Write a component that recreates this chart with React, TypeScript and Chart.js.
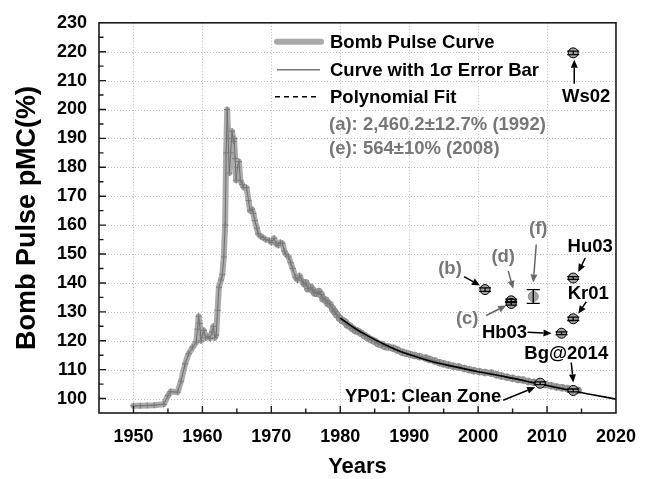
import React, { useEffect, useRef } from 'react';
import { Chart, registerables } from 'chart.js';
Chart.register(...registerables);

// ---------- DATA ----------
const curveYears = [
  1950.0, 1951.0, 1952.0, 1953.0, 1954.4, 1955.0, 1955.4, 1956.4, 1956.9, 1957.5,
  1958.0, 1958.6, 1959.1, 1959.3, 1959.45, 1959.6, 1959.8, 1960.0, 1960.2, 1960.5,
  1960.8, 1961.1, 1961.4, 1961.6, 1961.8, 1962.0, 1962.2, 1962.4, 1962.7, 1962.9,
  1963.1, 1963.3, 1963.45, 1963.6, 1963.75, 1963.9, 1964.1, 1964.3, 1964.5, 1964.6,
  1964.75, 1964.9, 1965.1, 1965.3, 1965.5, 1965.8, 1966.0, 1966.4, 1966.7, 1966.9,
  1967.2, 1967.4, 1967.6, 1967.9, 1968.1, 1968.5, 1968.8, 1969.2, 1969.7, 1970.0,
  1970.4, 1970.7, 1971.0, 1971.3, 1971.6, 1971.9, 1972.1, 1972.5, 1972.8, 1973.1,
  1973.5, 1973.8, 1974.1, 1974.4, 1974.7, 1975.0, 1975.3, 1975.7, 1976.0, 1976.3,
  1976.6, 1976.9, 1977.2, 1977.5, 1977.9, 1978.2, 1978.5, 1978.9, 1979.2, 1979.5,
  1979.9, 1980.3, 1980.7, 1981.0, 1981.4, 1981.8, 1982.2, 1982.6, 1983.0, 1983.5,
  1984.0, 1984.5, 1985.0, 1985.5, 1986.0, 1986.5, 1987.0, 1987.7, 1988.3, 1989.0,
  1989.6, 1990.2, 1990.8, 1991.5, 1992.4, 1993.0, 1993.7, 1994.4, 1995.0, 1995.7,
  1996.4, 1997.2, 1998.0, 1998.7, 1999.4, 2000.2, 2001.0, 2001.9, 2002.7, 2003.4,
  2004.2, 2005.0, 2005.8, 2006.5, 2007.3, 2008.1, 2009.0, 2009.8, 2010.6, 2011.4,
  2012.2, 2013.0, 2013.8, 2014.5,
];
const curveValues = [
  97.5, 97.5, 97.6, 97.7, 98.0, 101.0, 102.4, 102.2, 106.0, 112.0,
  115.5, 117.8, 119.5, 124.0, 128.5, 126.0, 120.0, 122.0, 123.6, 121.0,
  121.5, 120.8, 123.0, 125.0, 121.0, 122.0, 130.5, 138.5, 141.0, 143.0,
  149.0, 160.0, 185.0, 200.0, 190.0, 178.0, 185.0, 192.5, 189.0, 190.0,
  183.0, 175.5, 180.0, 182.0, 175.5, 174.0, 173.0, 173.0, 168.5, 165.0,
  165.5, 164.0, 161.6, 159.0, 157.0, 156.0, 155.7, 155.0, 154.7, 154.0,
  155.4, 153.5, 153.0, 154.0, 153.7, 151.0, 150.0, 149.0, 147.0, 145.0,
  142.0, 141.0, 142.5, 141.0, 139.5, 140.0, 138.0, 138.5, 137.5, 136.5,
  136.4, 137.0, 136.0, 134.5, 134.0, 133.0, 132.5, 131.0, 130.0, 129.0,
  127.8, 127.0, 126.5, 125.5, 125.0, 124.2, 123.5, 123.2, 122.6, 121.8,
  121.0, 120.3, 119.8, 119.0, 118.6, 118.0, 117.8, 117.4, 116.8, 116.0,
  115.6, 115.2, 114.9, 114.5, 114.0, 113.5, 113.0, 112.4, 112.0, 111.6,
  111.2, 110.9, 110.4, 110.0, 109.6, 109.3, 109.0, 108.8, 108.2, 107.8,
  107.4, 107.0, 106.6, 106.4, 105.9, 105.6, 105.3, 104.8, 104.4, 104.0,
  103.7, 103.4, 103.0, 102.8,
];

const fitYears = [1980, 1982, 1984, 1986, 1988, 1990, 1993, 1996, 2000, 2004, 2008, 2012, 2016, 2020];
const fitValues = [127.8, 124.5, 121.7, 119.2, 117.0, 115.2, 113.0, 111.3, 109.3, 107.5, 105.5, 103.5, 101.6, 99.8];

const sampleNames = ['Ws02', '(b)', '(d)', '(c)', '(f)', 'Hb03', 'Kr01', 'Hu03', 'Bg@2014', 'YP01: Clean Zone'];
const sampleYears = [2013.8, 2001.0, 2004.8, 2004.8, 2008.0, 2012.1, 2013.8, 2013.8, 2013.8, 2009.0];
const sampleValues = [219.6, 137.7, 133.8, 132.9, 135.3, 122.6, 127.6, 141.7, 102.8, 105.3];
const sampleErrors = [0.6, 0.6, 0.6, 0.6, 2.4, 0.5, 0.6, 0.5, 0.5, 0.5];

const xMin = 1945, xMax = 2020, yMin = 95, yMax = 230;
const xMajorStep = 10, yMajorStep = 10, minorStep = 5;

const legendLabels = ['Bomb Pulse Curve', 'Curve with 1\u03c3 Error Bar', 'Polynomial Fit'];
const noteLines = ['(a): 2,460.2\u00b112.7% (1992)', '(e): 564\u00b110% (2008)'];

// annotation layout (pixel offsets from the sample point)
const annotations = [
  { name: 'Ws02', color: '#000', tx: 13, ty: 44, a: [1, 31, 1, 7] },
  { name: '(b)', color: '#777', tx: -35, ty: -21, a: [-21, -13, -5, -4], arrowColor: '#000' },
  { name: '(d)', color: '#777', tx: -8, ty: -44, a: [-3, -30, 2, -12] },
  { name: '(c)', color: '#777', tx: -44, ty: 15, a: [-25, 12, -5, 2] },
  { name: '(f)', color: '#777', tx: 5, ty: -68, a: [3, -52, 0, -14] },
  { name: 'Hb03', color: '#000', tx: -57, ty: 0, a: [-34, -1, -10, 0] },
  { name: 'Kr01', color: '#000', tx: 15, ty: -25, a: [13, -17, 5, -5] },
  { name: 'Hu03', color: '#000', tx: 17, ty: -31, a: [12, -20, 5, -6] },
  { name: 'Bg@2014', color: '#000', tx: -7, ty: -37, a: [-2, -28, 0, -8] },
  { name: 'YP01: Clean Zone', color: '#000', tx: -117, ty: 14, a: [-37, 17, -5, 4] },
];

const FONT = '"Liberation Sans", Arial, sans-serif';

function arrow(ctx: CanvasRenderingContext2D, x1: number, y1: number, x2: number, y2: number, color: string) {
  const ang = Math.atan2(y2 - y1, x2 - x1);
  const hl = 8, hw = 3.5;
  const bx = x2 - hl * Math.cos(ang), by = y2 - hl * Math.sin(ang);
  ctx.save();
  ctx.strokeStyle = color;
  ctx.fillStyle = color;
  ctx.lineWidth = 1.5;
  ctx.beginPath();
  ctx.moveTo(x1, y1);
  ctx.lineTo(bx, by);
  ctx.stroke();
  ctx.beginPath();
  ctx.moveTo(x2, y2);
  ctx.lineTo(bx + hw * Math.sin(ang), by - hw * Math.cos(ang));
  ctx.lineTo(bx - hw * Math.sin(ang), by + hw * Math.cos(ang));
  ctx.closePath();
  ctx.fill();
  ctx.restore();
}

const decorPlugin = {
  id: 'decor',
  beforeDatasetsDraw(chart: any) {
    const { ctx, chartArea: a, scales } = chart;
    const xs = scales.x, ys = scales.y;
    ctx.save();
    ctx.strokeStyle = '#bcbcbc';
    ctx.lineWidth = 1;
    ctx.setLineDash([1, 2]);
    for (let v = 1950; v < xMax; v += xMajorStep) {
      const px = Math.round(xs.getPixelForValue(v)) + 0.5;
      ctx.beginPath(); ctx.moveTo(px, a.top); ctx.lineTo(px, a.bottom); ctx.stroke();
    }
    for (let v = 100; v < yMax; v += yMajorStep) {
      const py = Math.round(ys.getPixelForValue(v)) + 0.5;
      ctx.beginPath(); ctx.moveTo(a.left, py); ctx.lineTo(a.right, py); ctx.stroke();
    }
    ctx.restore();
  },
  afterDatasetsDraw(chart: any) {
    const { ctx, chartArea: a, scales } = chart;
    const xs = scales.x, ys = scales.y;
    ctx.save();
    // error bars
    ctx.strokeStyle = '#000';
    ctx.lineWidth = 1.3;
    sampleYears.forEach((yr, i) => {
      const px = xs.getPixelForValue(yr);
      const p1 = ys.getPixelForValue(sampleValues[i] - sampleErrors[i]);
      const p2 = ys.getPixelForValue(sampleValues[i] + sampleErrors[i]);
      const cw = sampleErrors[i] > 1 ? 6.5 : 6;
      ctx.beginPath();
      ctx.moveTo(px, p1); ctx.lineTo(px, p2);
      ctx.moveTo(px - cw, p1); ctx.lineTo(px + cw, p1);
      ctx.moveTo(px - cw, p2); ctx.lineTo(px + cw, p2);
      ctx.stroke();
    });
    // frame
    ctx.strokeStyle = '#1a1a1a';
    ctx.lineWidth = 1.6;
    ctx.strokeRect(a.left, a.top, a.right - a.left, a.bottom - a.top);
    // inward ticks
    ctx.lineWidth = 1.4;
    ctx.beginPath();
    for (let v = 1950; v < xMax; v += minorStep) {
      const px = xs.getPixelForValue(v);
      const len = v % xMajorStep === 0 ? 7 : 4.5;
      ctx.moveTo(px, a.bottom); ctx.lineTo(px, a.bottom - len);
    }
    for (let v = 100; v < yMax; v += minorStep) {
      const py = ys.getPixelForValue(v);
      const len = v % yMajorStep === 0 ? 7 : 4.5;
      ctx.moveTo(a.left, py); ctx.lineTo(a.left + len, py);
    }
    ctx.stroke();
    // annotations
    ctx.font = 'bold 18.5px ' + FONT;
    ctx.textAlign = 'center';
    ctx.textBaseline = 'middle';
    annotations.forEach((an) => {
      const i = sampleNames.indexOf(an.name);
      const px = xs.getPixelForValue(sampleYears[i]);
      const py = ys.getPixelForValue(sampleValues[i]);
      ctx.fillStyle = an.color;
      ctx.fillText(an.name, px + an.tx, py + an.ty);
      arrow(ctx, px + an.a[0], py + an.a[1], px + an.a[2], py + an.a[3], (an as any).arrowColor || (an.color === '#777' ? '#666' : '#000'));
    });
    // legend
    const lx = a.left + 176;
    const rows = [a.top + 19, a.top + 47, a.top + 74];
    ctx.lineCap = 'round';
    ctx.strokeStyle = 'rgba(160,160,160,0.9)';
    ctx.lineWidth = 6;
    ctx.beginPath(); ctx.moveTo(lx + 2, rows[0]); ctx.lineTo(lx + 46, rows[0]); ctx.stroke();
    ctx.lineCap = 'butt';
    ctx.strokeStyle = '#777';
    ctx.lineWidth = 1.4;
    ctx.beginPath(); ctx.moveTo(lx + 2, rows[1]); ctx.lineTo(lx + 45, rows[1]); ctx.stroke();
    ctx.strokeStyle = '#000';
    ctx.setLineDash([5, 4]);
    ctx.beginPath(); ctx.moveTo(lx, rows[2]); ctx.lineTo(lx + 45, rows[2]); ctx.stroke();
    ctx.setLineDash([]);
    ctx.textAlign = 'left';
    ctx.fillStyle = '#000';
    legendLabels.forEach((t, k) => ctx.fillText(t, lx + 55, rows[k] + 1));
    ctx.fillStyle = '#777';
    noteLines.forEach((t, k) => ctx.fillText(t, lx + 54, a.top + 102 + k * 24));
    ctx.restore();
  },
};

export default function App() {
  const ref = useRef<HTMLCanvasElement | null>(null);
  useEffect(() => {
    document.body.style.margin = '0';
    const canvas = ref.current!;
    const curve = curveYears.map((x, i) => ({ x, y: curveValues[i] }));
    const fit = fitYears.map((x, i) => ({ x, y: fitValues[i] }));
    const samples = sampleYears.map((x, i) => ({ x, y: sampleValues[i] }));
    const chart = new Chart(canvas, {
      type: 'line',
      data: {
        datasets: [
          {
            label: 'Samples',
            data: samples,
            showLine: false,
            pointRadius: 5,
            pointHoverRadius: 5,
            pointBackgroundColor: '#a3a3a3',
            pointBorderColor: sampleNames.map((n) => (n === '(f)' ? '#888' : '#000')),
            pointBorderWidth: 1,
          },
          {
            label: 'Polynomial Fit',
            data: fit,
            borderColor: '#000',
            borderWidth: 1.6,
            pointRadius: 0,
            cubicInterpolationMode: 'monotone',
          },
          {
            label: 'Curve with 1\u03c3 Error Bar',
            data: curve,
            borderColor: '#6e6e6e',
            borderWidth: 1,
            pointStyle: 'cross',
            pointRadius: 3,
            pointBorderColor: '#7a7a7a',
            pointBorderWidth: 1,
          },
          {
            label: 'Bomb Pulse Curve',
            data: curve,
            borderColor: 'rgba(150,150,150,0.8)',
            borderWidth: 6,
            borderJoinStyle: 'round',
            borderCapStyle: 'round',
            pointRadius: (c: any) => (c.raw && c.raw.x >= 1975 ? 3.5 : 0),
            pointBackgroundColor: 'rgba(160,160,160,0.9)',
            pointBorderColor: 'rgba(130,130,130,0.9)',
            pointBorderWidth: 0.8,
          },
        ],
      },
      options: {
        animation: false,
        responsive: false,
        devicePixelRatio: 1,
        events: [],
        layout: { padding: { left: 0, right: 21, top: 22, bottom: 0 } },
        plugins: { legend: { display: false }, tooltip: { enabled: false } },
        scales: {
          x: {
            type: 'linear',
            min: xMin,
            max: xMax,
            grid: { display: false, drawTicks: false },
            border: { display: false },
            ticks: {
              stepSize: minorStep,
              autoSkip: false,
              maxRotation: 0,
              padding: 13,
              color: '#000',
              font: { family: FONT, size: 18, weight: 'bold' },
              callback: (v: any) => (v % xMajorStep === 0 && v >= 1950 ? String(v) : ''),
            },
            title: {
              display: true,
              text: 'Years',
              color: '#000',
              font: { family: FONT, size: 22, weight: 'bold', lineHeight: 1.2 },
              padding: { top: 0, bottom: -1 },
            },
            afterFit: (s: any) => { s.height = 66; },
          },
          y: {
            min: yMin,
            max: yMax,
            grid: { display: false, drawTicks: false },
            border: { display: false },
            ticks: {
              stepSize: minorStep,
              autoSkip: false,
              padding: 12,
              color: '#000',
              font: { family: FONT, size: 18, weight: 'bold' },
              callback: (v: any) => (v % yMajorStep === 0 && v >= 100 ? String(v) : ''),
            },
            title: {
              display: true,
              text: 'Bomb Pulse pMC(%)',
              color: '#000',
              font: { family: FONT, size: 27, weight: 'bold', lineHeight: 1.2 },
              padding: { top: 11, bottom: 0 },
            },
            afterFit: (s: any) => { s.width = 99; },
          },
        },
      },
      plugins: [decorPlugin],
    } as any);
    return () => chart.destroy();
  }, []);
  return (
    <div style={{ position: 'absolute', left: 0, top: 0, width: 649, height: 479, background: '#fff' }}>
      <canvas ref={ref} width={649} height={479} />
    </div>
  );
}
